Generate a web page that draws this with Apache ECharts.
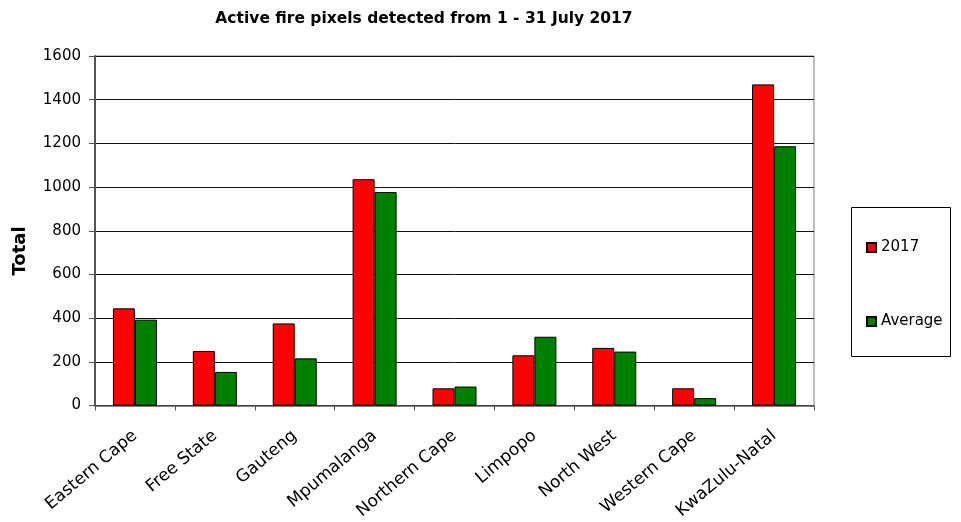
<!DOCTYPE html>
<html>
<head>
<meta charset="utf-8">
<script src="https://cdn.jsdelivr.net/npm/echarts@6/dist/echarts.min.js"></script>
<style>html,body{margin:0;padding:0;background:#fff;}#c{width:961px;height:522px;}</style>
</head>
<body>
<div id="c"></div>
<script>
var categories = ["Eastern Cape","Free State","Gauteng","Mpumalanga","Northern Cape","Limpopo","North West","Western Cape","KwaZulu-Natal"];
var values2017 = [445, 250, 376, 1036, 79, 230, 264, 79, 1470];
var valuesAverage = [393, 154, 216, 977, 87, 315, 247, 34, 1187];
var seriesNames = ["2017", "Average"];
var titleText = "Active fire pixels detected from 1 - 31 July 2017";
var yAxisTitle = "Total";

var FONT = "'DejaVu Sans', 'Liberation Sans', Arial, sans-serif";
var chart = echarts.init(document.getElementById('c'), null, {renderer: 'canvas'});
chart.setOption({
  backgroundColor: '#ffffff',
  animation: false,
  textStyle: {fontFamily: FONT, color: '#000'},
  title: {
    text: titleText,
    left: 419, top: 6, textAlign: 'center',
    textStyle: {fontFamily: FONT, fontSize: 15.5, fontWeight: 'bold', color: '#000'}
  },
  grid: {left: 95, right: 147, top: 56, bottom: 116, show: true, borderColor: '#808080', borderWidth: 1, containLabel: false},
  legend: {
    orient: 'vertical', left: 866, top: 240, itemGap: 59, padding: 0,
    itemWidth: 9, itemHeight: 9, icon: 'rect',
    textStyle: {fontFamily: FONT, fontSize: 15, color: '#000'},
    data: seriesNames
  },
  graphic: [{
    type: 'rect', shape: {x: 851.5, y: 207.5, width: 99, height: 149},
    style: {fill: 'none', stroke: '#000', lineWidth: 1}, z: 10
  }, {
    type: 'text', x: 20, y: 251, rotation: Math.PI / 2,
    style: {text: yAxisTitle, font: "bold 18px 'DejaVu Sans', sans-serif", fill: '#000', align: 'center', verticalAlign: 'middle'}
  }],
  xAxis: {
    type: 'category', data: categories,
    axisLine: {lineStyle: {color: '#555', width: 1.5}},
    axisTick: {show: true, length: 5, lineStyle: {color: '#555'}},
    axisLabel: {rotate: 40, fontSize: 17, fontFamily: FONT, color: '#000', margin: 28, interval: 0}
  },
  yAxis: {
    type: 'value', min: 0, max: 1600, interval: 200,
    axisLine: {show: true, lineStyle: {color: '#555', width: 2}},
    axisTick: {show: true, length: 6, lineStyle: {color: '#555'}},
    axisLabel: {fontSize: 15, fontFamily: FONT, color: '#000', margin: 14,
      formatter: function (v) { return String(v); }},
    splitLine: {lineStyle: {color: '#111', width: 1}}
  },
  series: [
    {name: seriesNames[0], type: 'bar', data: values2017, barWidth: 22, barGap: '0%',
     itemStyle: {color: '#ff0000', borderColor: '#000', borderWidth: 1}},
    {name: seriesNames[1], type: 'bar', data: valuesAverage, barWidth: 22, barGap: '0%',
     itemStyle: {color: '#008000', borderColor: '#000', borderWidth: 1}}
  ]
});
</script>
</body>
</html>
